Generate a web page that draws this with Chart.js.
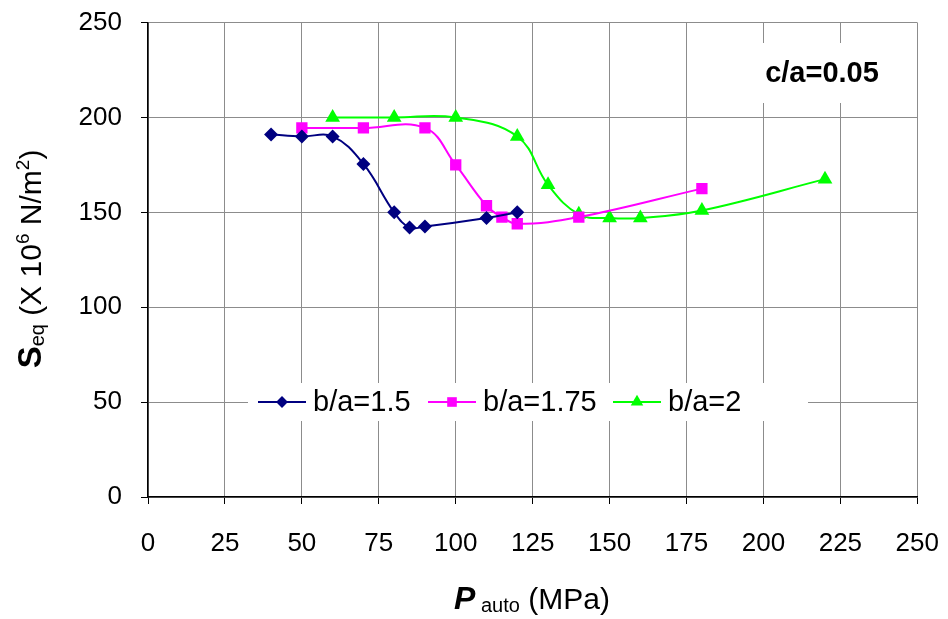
<!DOCTYPE html>
<html>
<head>
<meta charset="utf-8">
<script src="https://cdn.jsdelivr.net/npm/chart.js@4.4.1/dist/chart.umd.min.js"></script>
<style>
  html, body { margin: 0; padding: 0; background: #fff; overflow: hidden; }
  #wrap { width: 948px; height: 619px; overflow: hidden; position: relative; }
  #seqChart { position: absolute; left: 0; top: -12px; }
</style>
</head>
<body>
<div id="wrap"><canvas id="seqChart" width="963" height="631"></canvas></div>
<script>
// values
const pA = [40, 50, 60, 70, 80, 85, 90, 110, 120];          // b/a=1.5
const sA = [191, 190, 190, 175.5, 150, 142, 142.5, 147, 150];
const pB = [50, 70, 90, 100, 110, 115, 120, 140, 180];       // b/a=1.75
const sB = [194.5, 194.5, 194.5, 175, 153.5, 147.5, 144, 147.5, 162.5];
const pC = [60, 80, 100, 120, 130, 140, 150, 160, 180, 220]; // b/a=2
const sC = [200, 200, 200, 190, 164.5, 149, 147, 147, 151, 167.5];
const seriesNames = ['b/a=1.5', 'b/a=1.75', 'b/a=2'];
const xTicks = [0, 25, 50, 75, 100, 125, 150, 175, 200, 225, 250];
const yTicks = [0, 50, 100, 150, 200, 250];
const noteText = 'c/a=0.05';

const FONT = "'Liberation Sans', Arial, sans-serif";
const SHIFT_Y = 12; // canvas is moved up by this much on the page

function pts(xs, ys) {
    return xs.map((x, i) => ({ x: x, y: ys[i] }));
}

// draws text made of pieces with different fonts / baseline shifts
function drawRich(ctx, parts, cx, cy) {
    let total = 0;
    parts.forEach(p => { ctx.font = p.font; p.w = ctx.measureText(p.t).width; total += p.w; });
    let x = cx - total / 2;
    ctx.textBaseline = 'alphabetic';
    ctx.textAlign = 'left';
    parts.forEach(p => {
        ctx.font = p.font;
        ctx.fillText(p.t, x, cy + (p.dy || 0));
        x += p.w;
    });
}

const extrasPlugin = {
    id: 'extras',
    afterDraw(chart) {
        const ctx = chart.ctx;
        ctx.save();
        ctx.translate(0, SHIFT_Y); // work in page coordinates
        ctx.fillStyle = '#000';

        // y axis title
        ctx.save();
        ctx.translate(41, 259);
        ctx.rotate(-Math.PI / 2);
        drawRich(ctx, [
            { t: 'S', font: 'bold 33px ' + FONT },
            { t: 'eq', font: '20px ' + FONT, dy: 3 },
            { t: ' (X 10', font: '30px ' + FONT },
            { t: '6', font: '19px ' + FONT, dy: -12 },
            { t: ' N/m', font: '30px ' + FONT },
            { t: '2', font: '19px ' + FONT, dy: -12 },
            { t: ')', font: '30px ' + FONT }
        ], 0, 0);
        ctx.restore();

        // x axis title
        drawRich(ctx, [
            { t: 'P', font: 'italic bold 32px ' + FONT },
            { t: ' auto', font: '20px ' + FONT, dy: 3 },
            { t: ' (MPa)', font: '30px ' + FONT }
        ], 532, 609);

        // note box
        ctx.fillStyle = '#fff';
        ctx.fillRect(748, 43, 162, 60);
        ctx.fillStyle = '#000';
        ctx.font = 'bold 29px ' + FONT;
        ctx.textAlign = 'center';
        ctx.textBaseline = 'middle';
        ctx.fillText(noteText, 822, 74);

        // legend inside the plot
        ctx.fillStyle = '#fff';
        ctx.fillRect(248, 383, 560, 38);
        const itemX = [258, 428, 613];
        const ly = 402;
        chart.data.datasets.forEach((ds, i) => {
            const x0 = itemX[i];
            ctx.strokeStyle = ds.borderColor;
            ctx.lineWidth = 2;
            ctx.beginPath();
            ctx.moveTo(x0, ly);
            ctx.lineTo(x0 + 48, ly);
            ctx.stroke();
            ctx.fillStyle = ds.backgroundColor;
            Chart.helpers.drawPoint(ctx, {
                pointStyle: ds.pointStyle,
                radius: ds.pointRadius * 0.85,
                borderWidth: 0,
                rotation: 0
            }, x0 + 24, ly);
            ctx.fillStyle = '#000';
            ctx.font = '29px ' + FONT;
            ctx.textAlign = 'left';
            ctx.textBaseline = 'middle';
            ctx.fillText(ds.label, x0 + 55, ly + 1);
        });
        ctx.restore();
    }
};

const ctx = document.getElementById('seqChart').getContext('2d');
const seqChart = new Chart(ctx, {
    type: 'scatter',
    data: {
        datasets: [
            {
                label: seriesNames[0],
                data: pts(pA, sA),
                borderColor: '#000080',
                backgroundColor: '#000080',
                pointStyle: 'rectRot',
                pointRadius: 7,
                pointBorderWidth: 0
            },
            {
                label: seriesNames[1],
                data: pts(pB, sB),
                borderColor: '#FF00FF',
                backgroundColor: '#FF00FF',
                pointStyle: 'rect',
                pointRadius: 8,
                pointBorderWidth: 0
            },
            {
                label: seriesNames[2],
                data: pts(pC, sC),
                borderColor: '#00FF00',
                backgroundColor: '#00FF00',
                pointStyle: 'triangle',
                pointRadius: 8.5,
                pointBorderWidth: 0
            }
        ].map(d => Object.assign(d, { showLine: true, tension: 0.4, borderWidth: 2, pointHoverRadius: d.pointRadius }))
    },
    options: {
        responsive: false,
        animation: false,
        layout: { padding: { left: 0, top: 11, right: 15, bottom: 0 } },
        plugins: {
            legend: { display: false },
            tooltip: { enabled: false }
        },
        scales: {
            x: {
                type: 'linear',
                min: 0,
                max: 250,
                afterBuildTicks: s => { s.ticks = xTicks.map(v => ({ value: v })); },
                afterFit: s => { s.height = 122; },
                ticks: {
                    color: '#000',
                    padding: 24,
                    maxRotation: 0,
                    autoSkip: false,
                    font: { family: FONT, size: 26 }
                },
                grid: { color: '#8c8c8c', tickColor: '#000', tickLength: 7, lineWidth: 1 },
                border: { color: '#000', width: 1.5 }
            },
            y: {
                min: 0,
                max: 250,
                afterBuildTicks: s => { s.ticks = yTicks.map(v => ({ value: v })); },
                afterFit: s => { s.width = 148; },
                ticks: {
                    color: '#000',
                    padding: 19,
                    font: { family: FONT, size: 26 }
                },
                grid: { color: '#8c8c8c', tickColor: '#000', tickLength: 7, lineWidth: 1 },
                border: { color: '#000', width: 1.5 }
            }
        }
    },
    plugins: [extrasPlugin]
});
</script>
</body>
</html>
